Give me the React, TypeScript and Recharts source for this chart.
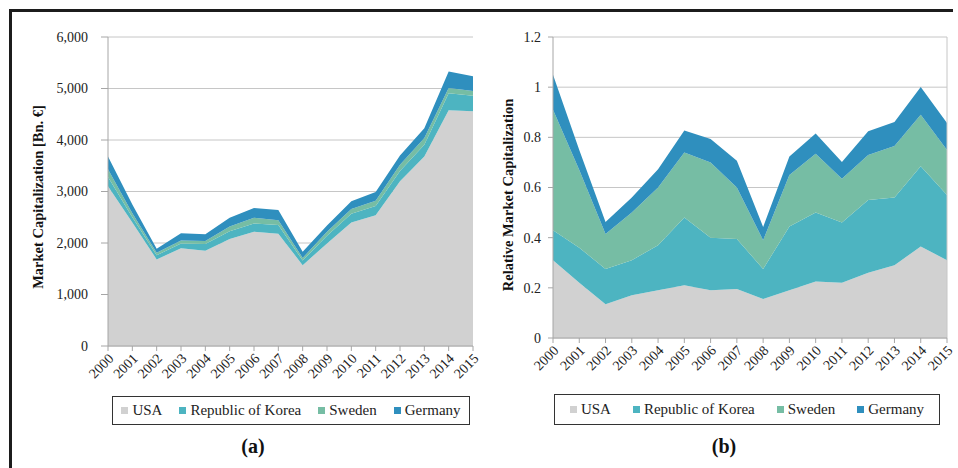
import React from 'react';
import { AreaChart, Area, XAxis, YAxis, CartesianGrid, Legend, ReferenceLine } from 'recharts';

const years = ['2000', '2001', '2002', '2003', '2004', '2005', '2006', '2007', '2008', '2009', '2010', '2011', '2012', '2013', '2014', '2015'];

// (a) Market capitalization, Bn. EUR (stacked)
const usaAbs = [3100, 2400, 1680, 1900, 1850, 2080, 2220, 2180, 1570, 1990, 2400, 2540, 3200, 3680, 4580, 4560];
const koreaAbs = [180, 100, 80, 90, 130, 150, 160, 170, 90, 150, 170, 180, 200, 230, 330, 300];
const swedenAbs = [150, 80, 50, 60, 60, 90, 110, 90, 50, 80, 90, 100, 120, 130, 100, 90];
const germanyAbs = [250, 170, 80, 140, 130, 170, 190, 200, 120, 120, 150, 170, 180, 190, 320, 290];

// (b) Relative market capitalization (stacked)
const usaRel = [0.31, 0.22, 0.135, 0.17, 0.19, 0.21, 0.19, 0.195, 0.155, 0.19, 0.225, 0.22, 0.26, 0.29, 0.365, 0.31];
const koreaRel = [0.12, 0.14, 0.14, 0.14, 0.18, 0.27, 0.21, 0.2, 0.12, 0.255, 0.275, 0.24, 0.29, 0.27, 0.32, 0.26];
const swedenRel = [0.48, 0.31, 0.14, 0.19, 0.23, 0.26, 0.3, 0.205, 0.115, 0.205, 0.235, 0.175, 0.18, 0.205, 0.205, 0.18];
const germanyRel = [0.14, 0.08, 0.047, 0.06, 0.073, 0.087, 0.093, 0.107, 0.053, 0.074, 0.08, 0.067, 0.094, 0.096, 0.111, 0.107];

const absTicks = [0, 1000, 2000, 3000, 4000, 5000, 6000];
const relTicks = [0, 0.2, 0.4, 0.6, 0.8, 1, 1.2];

const seriesNames = ['USA', 'Republic of Korea', 'Sweden', 'Germany'];
const seriesColors = ['#d1d1d1', '#4db4c1', '#76bda4', '#2f8fbe'];

const absSeries = [usaAbs, koreaAbs, swedenAbs, germanyAbs];
const relSeries = [usaRel, koreaRel, swedenRel, germanyRel];

const absData = years.map((year, i) => {
  const row: Record<string, string | number> = { year };
  seriesNames.forEach((n, k) => { row[n] = absSeries[k][i]; });
  return row;
});
const relData = years.map((year, i) => {
  const row: Record<string, string | number> = { year };
  seriesNames.forEach((n, k) => { row[n] = relSeries[k][i]; });
  return row;
});

const FONT = '"Liberation Serif", "Times New Roman", serif';
const TEXT = '#222';
const AXIS = '#a6a6a6';
const GRID = '#c6c6c6';

const YearTick = (props: any) => {
  const { x, y, payload } = props;
  return (
    <g transform={`translate(${x},${y})`}>
      <text x={0} y={0} dy={9} textAnchor="end" transform="rotate(-45)" fontFamily={FONT} fontSize={14} fill={TEXT}>
        {payload.value}
      </text>
    </g>
  );
};

const makeLegend = (gap: number, height: number) => (props: any) => {
  const payload: any[] = props.payload || [];
  const names = seriesNames.filter((n) => payload.length === 0 || payload.some((p) => p.value === n));
  return (
    <div
      style={{
        border: '1.5px solid #333',
        boxSizing: 'border-box',
        height,
        display: 'flex',
        alignItems: 'center',
        justifyContent: 'center',
        gap,
        fontFamily: FONT,
        fontSize: 15,
        color: TEXT,
        background: '#fff',
      }}
    >
      {names.map((n) => (
        <span key={n} style={{ display: 'flex', alignItems: 'center', whiteSpace: 'nowrap' }}>
          <span style={{ display: 'inline-block', width: 7, height: 7, background: seriesColors[seriesNames.indexOf(n)], marginRight: 4 }} />
          {n}
        </span>
      ))}
    </div>
  );
};

const axisTitle = (text: string, cx: number, cy: number) => ({
  content: () => (
    <text
      x={cx}
      y={cy}
      textAnchor="middle"
      dominantBaseline="central"
      transform={`rotate(-90 ${cx} ${cy})`}
      fontFamily={FONT}
      fontSize={14.5}
      fontWeight="bold"
      fill="#111"
    >
      {text}
    </text>
  ),
});

const fmtThousands = (v: number) => v.toLocaleString('en-US');
const fmtRel = (v: number) => String(Math.round(v * 10) / 10);

export default function App() {
  return (
    <div style={{ position: 'absolute', left: 0, top: 0, width: 958, height: 468, overflow: 'hidden', background: '#fff', fontFamily: FONT }}>
      <div style={{ position: 'absolute', left: 9, top: 9, width: 944, height: 3, background: '#1c1c1c' }} />
      <div style={{ position: 'absolute', left: 9, top: 9, width: 3, height: 470, background: '#1c1c1c' }} />
      <div style={{ position: 'absolute', left: 0, top: 0 }}>
        <AreaChart width={480} height={468} data={absData} margin={{ top: 37, right: 7, left: 0, bottom: 72 }}>
          <CartesianGrid horizontal vertical={false} stroke={GRID} />
          <XAxis
            dataKey="year"
            interval={0}
            height={50}
            tick={<YearTick />}
            tickSize={5}
            tickMargin={2}
            axisLine={{ stroke: AXIS }}
            tickLine={{ stroke: AXIS }}
          />
          <YAxis
            width={108}
            domain={[0, 6000]}
            ticks={absTicks}
            tickFormatter={fmtThousands}
            tickSize={7}
            tickMargin={13}
            axisLine={{ stroke: AXIS }}
            tickLine={{ stroke: AXIS }}
            tick={{ fontFamily: FONT, fontSize: 14, fill: TEXT }}
            label={axisTitle('Market Capitalization [Bn. €]', 38, 197)}
          />
          {seriesNames.map((n, k) => (
            <Area key={n} type="linear" dataKey={n} name={n} stackId="a" fill={seriesColors[k]} fillOpacity={1} stroke="none" isAnimationActive={false} />
          ))}
          <Legend
            layout="horizontal"
            align="center"
            verticalAlign="middle"
            content={makeLegend(17, 29)}
            wrapperStyle={{ left: 112, top: 396, width: 358 }}
          />
        </AreaChart>
      </div>
      <div style={{ position: 'absolute', left: 478, top: 0 }}>
        <AreaChart width={480} height={468} data={relData} margin={{ top: 37, right: 11, left: 0, bottom: 80 }}>
          <CartesianGrid horizontal vertical={false} stroke={GRID} />
          <XAxis
            dataKey="year"
            interval={0}
            height={50}
            tick={<YearTick />}
            tickSize={5}
            tickMargin={2}
            axisLine={{ stroke: AXIS }}
            tickLine={{ stroke: AXIS }}
          />
          <YAxis
            width={75}
            domain={[0, 1.2]}
            ticks={relTicks}
            tickFormatter={fmtRel}
            tickSize={5}
            tickMargin={7}
            axisLine={{ stroke: AXIS }}
            tickLine={{ stroke: AXIS }}
            tick={{ fontFamily: FONT, fontSize: 14, fill: TEXT }}
            label={axisTitle('Relative Market Capitalization', 30, 195)}
          />
          {seriesNames.map((n, k) => (
            <Area key={n} type="linear" dataKey={n} name={n} stackId="b" fill={seriesColors[k]} fillOpacity={1} stroke="none" isAnimationActive={false} />
          ))}
          <ReferenceLine x="2015" stroke={GRID} />
          <Legend
            layout="horizontal"
            align="center"
            verticalAlign="middle"
            content={makeLegend(22, 31)}
            wrapperStyle={{ left: 76, top: 394, width: 386 }}
          />
        </AreaChart>
      </div>
      <div style={{ position: 'absolute', left: 203, top: 435, width: 100, textAlign: 'center', fontFamily: FONT, fontSize: 20, fontWeight: 'bold', lineHeight: '22px', color: '#111' }}>
        (a)
      </div>
      <div style={{ position: 'absolute', left: 674, top: 435, width: 100, textAlign: 'center', fontFamily: FONT, fontSize: 20, fontWeight: 'bold', lineHeight: '22px', color: '#111' }}>
        (b)
      </div>
    </div>
  );
}
